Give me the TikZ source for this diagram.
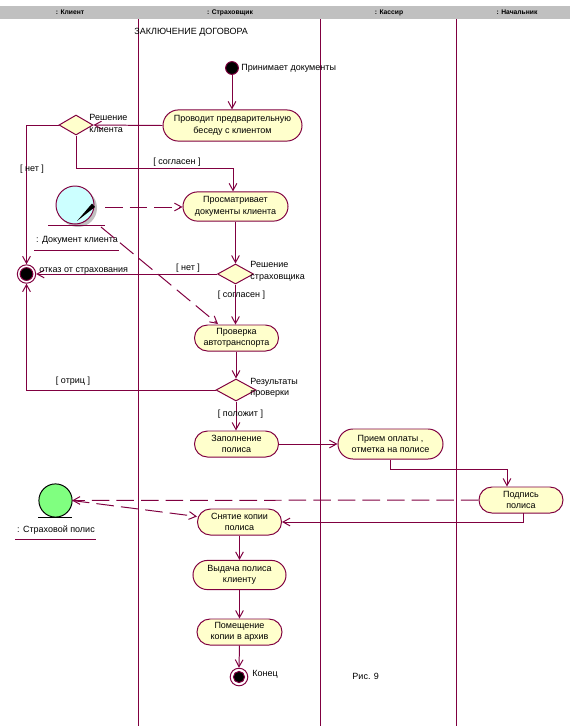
\documentclass[tikz,border=0pt]{standalone}
\usepackage{fontspec}
\setmainfont{Liberation Sans}
\usetikzlibrary{arrows.meta,shapes.geometric,shapes.misc}
\definecolor{umlline}{RGB}{128,0,64}
\definecolor{umlfill}{RGB}{255,255,204}
\definecolor{docblue}{RGB}{204,255,255}
\definecolor{polgreen}{RGB}{128,255,128}
\definecolor{headgrey}{RGB}{192,192,192}
\tikzset{
  txt/.style={inner sep=0pt,align=left,font=\fontsize{6.4}{8.2}\selectfont},
  lanehead/.style={inner sep=0pt,font=\fontsize{4.8}{6}\selectfont\bfseries},
  activity/.style={rounded rectangle,draw=umlline,fill=umlfill,inner sep=0pt,align=center,
    font=\fontsize{6.4}{8.2}\selectfont},
  decision/.style={diamond,draw=umlline,fill=umlfill,inner sep=0pt},
  flow/.style={draw=umlline,->},
  objflow/.style={draw=umlline,->,dash pattern=on 12.5pt off 5pt},
  lane/.style={draw=umlline},
  startdot/.style={circle,draw=umlline,fill=black,inner sep=0pt,minimum size=0.32cm,line width=0.7pt},
  endring/.style={circle,draw=umlline,fill=white,inner sep=0pt,minimum size=0.46cm}
}
\begin{document}
\begin{tikzpicture}[x=0.025cm,y=-0.025cm,line width=0.7pt,>={Straight Barb[length=5pt,width=5.5pt]}]
            \useasboundingbox (0,0) rectangle (570,726);
            \fill [headgrey] (0,6) rectangle (570,19);
            \node [lanehead] (headclient) at (70,12.5) {: Клиент};
            \node [lanehead] (headagent) at (230,12.5) {: Страховщик};
            \node [lanehead] (headcash) at (389,12.5) {: Кассир};
            \node [lanehead] (headboss) at (517,12.5) {: Начальник};
            \draw [lane] (138,19) -- (138,726);
            \draw [lane] (320,19) -- (320,726);
            \draw [lane] (456,19) -- (456,726);
            \node [txt,anchor=west] (title) at (134,32) {ЗАКЛЮЧЕНИЕ ДОГОВОРА};

            \node [startdot] (start) at (232,68) {};
            \node [activity,minimum width=3.475cm,minimum height=0.78cm] (talk) at (232.5,125.5) {Проводит предварительную\\беседу с клиентом};
            \node [decision,minimum width=0.85cm,minimum height=0.5cm] (clientdec) at (76,125) {};
            \node [activity,minimum width=2.625cm,minimum height=0.73cm] (review) at (235.5,206.5) {Просматривает\\документы клиента};
            \node [decision,minimum width=0.9cm,minimum height=0.5cm] (agentdec) at (235.5,274) {};
            \node [endring] (stop) at (26.5,274) {};
            \node [startdot] (stopdot) at (26.5,274) {};
            \node [activity,minimum width=2.1cm,minimum height=0.65cm] (check) at (236.5,338) {Проверка\\автотранспорта};
            \node [decision,minimum width=1cm,minimum height=0.55cm] (checkdec) at (236,390) {};
            \node [activity,minimum width=2.1cm,minimum height=0.65cm] (fill) at (236.5,444) {Заполнение\\полиса};
            \node [activity,minimum width=2.625cm,minimum height=0.75cm] (pay) at (390.5,444) {Прием оплаты ,\\отметка на полисе};
            \node [activity,minimum width=2.1cm,minimum height=0.65cm] (sign) at (521,500) {Подпись\\полиса};
            \node [activity,minimum width=2.1cm,minimum height=0.65cm] (copy) at (239.5,522) {Снятие копии\\полиса};
            \node [activity,minimum width=2.325cm,minimum height=0.73cm] (issue) at (239.5,575) {Выдача полиса\\клиенту};
            \node [activity,minimum width=2.125cm,minimum height=0.65cm] (archive) at (239.5,632) {Помещение\\копии в архив};
            \node [endring,minimum size=0.44cm] (finish) at (239,677) {};
            \node [startdot,minimum size=0.28cm] (finishdot) at (239,677) {};

            \node [circle,fill=headgrey,inner sep=0pt,minimum size=0.95cm] (docshade) at (78,208) {};
            \node [circle,draw=umlline,fill=docblue,inner sep=0pt,minimum size=0.95cm] (doc) at (75,205) {};
            \fill (77,221) -- (92,203.5) -- (95,207) -- cycle;
            \draw [umlline] (48,225) -- (105,225);
            \node [txt] (doclabel) at (77,240) {: Документ клиента};
            \draw [umlline] (34,250) -- (119,250);
            \node [circle,draw=black,fill=polgreen,inner sep=0pt,minimum size=0.83cm] (policy) at (55.5,500.5) {};
            \draw (38,517) -- (72,517);
            \node [txt] (policylabel) at (56,530) {: Страховой полис};
            \draw [umlline] (15,539) -- (96,539);

            \coordinate (agreeturn) at (233,168);
            \coordinate (payturn) at (507,469);
            \coordinate (signout) at (523,513);
            \coordinate (docout) at (105,207);
            \coordinate (docdiag) at (101,227);
            \coordinate (checkin) at (218,324);
            \coordinate (copyin) at (197,516.5);
            \coordinate (policyout) at (72,500.5);

            \draw [flow] (start) -- (start |- talk.north);
            \draw [flow] (talk.west) -- (clientdec.east);
            \draw [flow] (clientdec.west) -| (stop.north);
            \draw [flow] (clientdec.south) |- (agreeturn) -- (agreeturn |- review.north);
            \draw [flow] (review.south) -- (agentdec.north);
            \draw [flow] (agentdec.west) -- (stop.east);
            \draw [flow] (agentdec.south) -- (agentdec.south |- check.north);
            \draw [flow] (check.south -| checkdec.north) -- (checkdec.north);
            \draw [flow] (checkdec.west) -| (stop.south);
            \draw [flow] (checkdec.south) -- (checkdec.south |- fill.north);
            \draw [flow] (fill.east) -- (pay.west);
            \draw [flow] (pay.south) |- (payturn) -- (payturn |- sign.north);
            \draw [flow] (signout) |- (copy.east);
            \draw [flow] (copy.south) -- (issue.north);
            \draw [flow] (issue.south) -- (archive.north);
            \draw [flow] (archive.south) -- (finish.north);
            \draw [objflow] (docout) -- (docout -| review.west);
            \draw [objflow] (docdiag) -- (checkin);
            \draw [objflow] (sign.west) -- (policyout);
            \draw [objflow] (policyout) -- (copyin);

            \node [txt,anchor=west] (startlabel) at (241,68) {Принимает документы};
            \node [txt,anchor=west] (clientdeclabel) at (89,123.5) {Решение\\клиента};
            \node [txt,anchor=west] (agentdeclabel) at (250,271.5) {Решение\\страховщика};
            \node [txt,anchor=west] (checkdeclabel) at (250,388) {Результаты\\проверки};
            \node [txt,anchor=west] (stoplabel) at (39,271) {отказ от страхования};
            \node [txt] (nolabel) at (32,169) {[ нет ]};
            \node [txt] (agreelabel) at (177,162) {[ согласен ]};
            \node [txt] (nolabeltwo) at (188,268) {[ нет ]};
            \node [txt] (agreelabeltwo) at (241.5,295) {[ согласен ]};
            \node [txt] (rejectlabel) at (73,381) {[ отриц ]};
            \node [txt] (okaylabel) at (240.5,414) {[ положит ]};
            \node [txt,anchor=west] (finishlabel) at (252,674) {Конец};
            \node [txt,anchor=west] (figlabel) at (352,676) {Рис. 9};
        \end{tikzpicture}
\end{document}
